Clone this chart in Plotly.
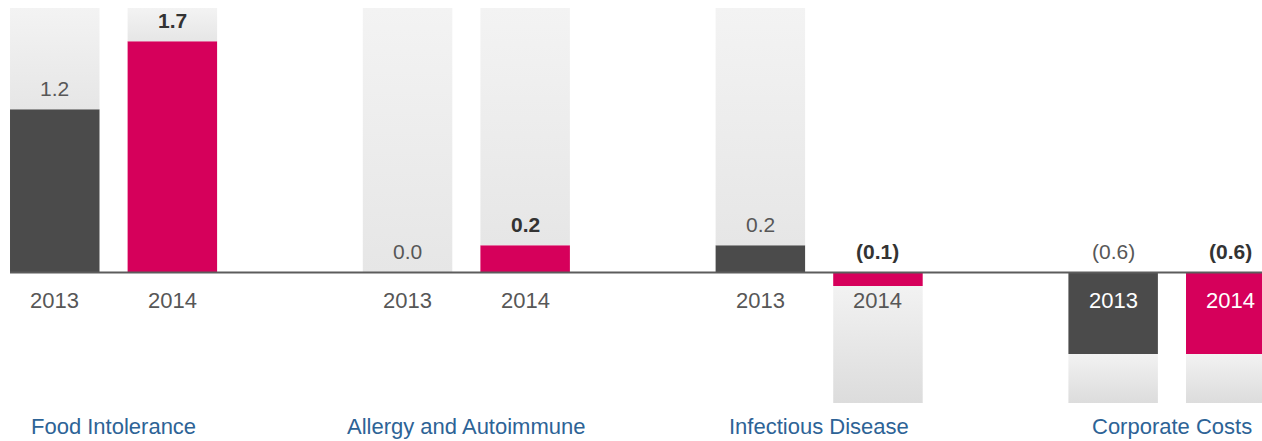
import plotly.graph_objects as go

# Operating result by segment (GBP m); negatives shown in parentheses
categories = ["Food Intolerance", "Allergy and Autoimmune", "Infectious Disease", "Corporate Costs"]
years = ["2013", "2014"]
values_2013 = [1.2, 0.0, 0.2, -0.6]
values_2014 = [1.7, 0.2, -0.1, -0.6]
labels_2013 = ["1.2", "0.0", "0.2", "(0.6)"]
labels_2014 = ["1.7", "0.2", "(0.1)", "(0.6)"]

# extent of the pale backdrop columns behind each bar
backdrop_top = 1.945
backdrop_bottom = -0.96

GROUP_STEP = 3.0
PAIR_STEP = 1.0
BAR_W = 0.761
X_RANGE = [-0.4656, 10.2657]
Y_RANGE = [-1.239, 2.0037]

DARK = "#4b4b4b"
PINK = "#d6005b"
TEXT = "#575757"
TEXT_BOLD = "#333333"
BLUE = "#2d6396"
FONT = "Liberation Sans, Arial, sans-serif"

series = [
    (years[0], values_2013, labels_2013, DARK, False),
    (years[1], values_2014, labels_2014, PINK, True),
]

fig = go.Figure()

# pale gradient backdrops: above positive bars, below negative ones
for s_idx, (yr, vals, _, _, _) in enumerate(series):
    for g, v in enumerate(vals):
        xc = g * GROUP_STEP + s_idx * PAIR_STEP
        x0, x1 = xc - BAR_W / 2, xc + BAR_W / 2
        if v >= 0:
            lo, hi = v, backdrop_top
            cs = [[0, "#e6e6e6"], [1, "#f3f3f3"]]
        else:
            lo, hi = backdrop_bottom, v
            cs = [[0, "#dcdcdc"], [1, "#f2f2f2"]]
        fig.add_trace(go.Scatter(
            x=[x0, x1, x1, x0, x0], y=[lo, lo, hi, hi, lo],
            mode="none", fill="toself", hoverinfo="skip",
            fillgradient=dict(type="vertical", colorscale=cs, start=lo, stop=hi),
            showlegend=False,
        ))

# the bars themselves
for s_idx, (yr, vals, _, color, _) in enumerate(series):
    xs = [g * GROUP_STEP + s_idx * PAIR_STEP for g in range(len(categories))]
    fig.add_trace(go.Bar(
        x=xs, y=vals, width=BAR_W, marker=dict(color=color, line=dict(width=0)),
        name=yr, showlegend=False, hoverinfo="skip",
    ))

annotations = []
for s_idx, (yr, vals, labs, color, bold) in enumerate(series):
    for g, (v, lab) in enumerate(zip(vals, labs)):
        xc = g * GROUP_STEP + s_idx * PAIR_STEP
        txt = f"<b>{lab}</b>" if bold else lab
        annotations.append(dict(
            x=xc, y=max(v, 0), xref="x", yref="y", text=txt, showarrow=False,
            yanchor="middle", xanchor="center", yshift=21,
            font=dict(family=FONT, size=21, color=TEXT_BOLD if bold else TEXT),
        ))
        # year label sits just below the axis line, white when inside a bar
        inside = v < -0.3
        annotations.append(dict(
            x=xc, y=0, xref="x", yref="y", text=yr, showarrow=False,
            yanchor="middle", xanchor="center", yshift=-28,
            font=dict(family=FONT, size=22, color="#ffffff" if inside else TEXT),
        ))

for g, name in enumerate(categories):
    annotations.append(dict(
        x=g * GROUP_STEP + PAIR_STEP / 2, y=0.034, xref="x", yref="paper",
        text=name, showarrow=False, yanchor="middle", xanchor="center",
        font=dict(family=FONT, size=22, color=BLUE),
    ))

fig.update_layout(
    width=1262, height=441,
    margin=dict(l=0, r=0, t=0, b=0),
    paper_bgcolor="white", plot_bgcolor="white",
    barmode="overlay",
    xaxis=dict(range=X_RANGE, visible=False, fixedrange=True),
    yaxis=dict(range=Y_RANGE, visible=False, fixedrange=True),
    annotations=annotations,
    shapes=[dict(
        type="line", xref="x", yref="y",
        x0=-BAR_W / 2, x1=X_RANGE[1], y0=0, y1=0,
        line=dict(color="#5c5c5c", width=2), layer="above",
    )],
)

fig.write_html("out.html")
